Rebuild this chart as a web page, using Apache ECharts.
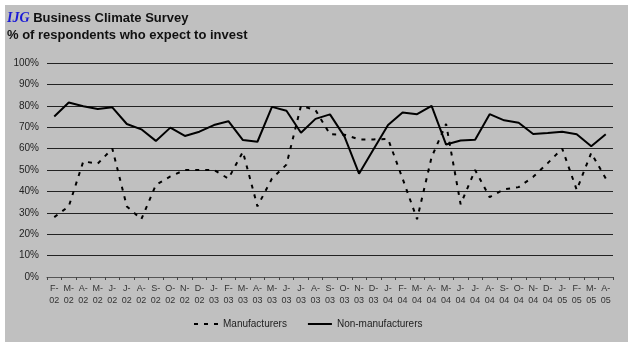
<!DOCTYPE html>
<html lang="en">
<head>
    <meta charset="UTF-8">
    <title>Business Climate Survey</title>
    <script src="https://cdn.jsdelivr.net/npm/echarts@6/dist/echarts.min.js"></script>
    <style>
        body { margin: 0; background: #fff; }
    </style>
</head>
<body>
    <div id="main" style="width: 631px;height:345px;"></div>
    <script type="text/javascript">
        // month labels, Feb 2002 .. Apr 2005
        var months = [
            'F-02', 'M-02', 'A-02', 'M-02', 'J-02', 'J-02', 'A-02', 'S-02', 'O-02', 'N-02', 'D-02',
            'J-03', 'F-03', 'M-03', 'A-03', 'M-03', 'J-03', 'J-03', 'A-03', 'S-03', 'O-03', 'N-03', 'D-03',
            'J-04', 'F-04', 'M-04', 'A-04', 'M-04', 'J-04', 'J-04', 'A-04', 'S-04', 'O-04', 'N-04', 'D-04',
            'J-05', 'F-05', 'M-05', 'A-05'
        ];

        // % of respondents who expect to invest
        var manufacturers = [
            28, 33, 54, 53, 60, 33, 27, 43, 47, 50, 50,
            50, 46, 58.5, 33, 46, 52.5, 80, 78, 66.7, 66.5, 64.3, 64.3,
            64.5, 46, 27, 56, 71.5, 34, 50, 37.3, 41, 42, 46.8, 53.2,
            60, 40.7, 58, 46
        ];
        var nonManufacturers = [
            75, 81.5, 79.8, 78.5, 79.3, 71.5, 69, 63.6, 69.8, 65.9, 67.9,
            71, 72.8, 64, 63.2, 79.5, 77.7, 67.4, 73.9, 76, 65.6, 48.3, 59.7,
            71, 76.9, 76.1, 80, 61.9, 63.8, 64.1, 76.1, 73.2, 72.1, 66.8, 67.3,
            67.9, 66.7, 61.1, 66.7
        ];

        var myChart = echarts.init(document.getElementById('main'));

        var option = {
            animation: false,
            // grey panel behind everything
            graphic: [{
                type: 'rect',
                z: -10,
                shape: {x: 5, y: 5, width: 623, height: 337},
                style: {fill: '#c0c0c0'}
            }],

            title: {
                left: 7,
                top: 10,
                padding: 0,
                text: '{ijg|IJG} Business Climate Survey\n% of respondents who expect to invest',
                textStyle: {
                    fontFamily: 'Liberation Sans, Arial',
                    fontSize: 13,
                    fontWeight: 'bold',
                    color: '#111',
                    lineHeight: 17,
                    rich: {
                        ijg: {
                            fontFamily: 'Liberation Serif, Times New Roman',
                            fontStyle: 'italic',
                            fontWeight: 'bold',
                            fontSize: 14,
                            color: '#1a1ad6'
                        }
                    }
                }
            },

            // legend icons: line only, no symbol
            legend: {
                left: 193,
                top: 319,
                padding: 0,
                itemGap: 20,
                itemWidth: 24,
                itemHeight: 12,
                itemStyle: {opacity: 0},
                textStyle: {
                    fontFamily: 'Liberation Sans, Arial',
                    fontSize: 10,
                    color: '#222'
                },
                data: ['Manufacturers', 'Non-manufacturers']
            },

            grid: {
                left: 47,
                right: 18,
                top: 63,
                bottom: 68
            },

            xAxis: {
                type: 'category',
                boundaryGap: true,
                data: months,
                axisLine: {lineStyle: {color: '#555', width: 1}},
                axisTick: {show: true, length: 3, interval: 0, lineStyle: {color: '#444'}},
                axisLabel: {
                    interval: 0,
                    margin: 6,
                    fontFamily: 'Liberation Sans, Arial',
                    fontSize: 9,
                    lineHeight: 12,
                    color: '#333',
                    formatter: function (v) {
                        return v.replace('-', '-\n');
                    }
                }
            },

            yAxis: {
                type: 'value',
                min: 0,
                max: 100,
                interval: 10,
                axisLine: {show: false},
                axisTick: {show: false},
                axisLabel: {
                    margin: 8,
                    fontFamily: 'Liberation Sans, Arial',
                    fontSize: 10,
                    color: '#222',
                    formatter: '{value}%'
                },
                splitLine: {lineStyle: {color: '#222', width: 1}}
            },

            series: [
                {
                    name: 'Manufacturers',
                    type: 'line',
                    data: manufacturers,
                    symbol: 'none',
                    itemStyle: {color: '#000'},
                    lineStyle: {color: '#000', width: 2, type: [4, 6]}
                },
                {
                    name: 'Non-manufacturers',
                    type: 'line',
                    data: nonManufacturers,
                    symbol: 'none',
                    itemStyle: {color: '#000'},
                    lineStyle: {color: '#000', width: 2}
                }
            ]
        };

        myChart.setOption(option);
    </script>
</body>
</html>
